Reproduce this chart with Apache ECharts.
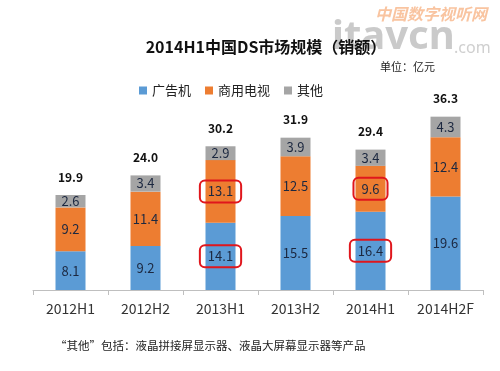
<!DOCTYPE html>
<html><head><meta charset="utf-8">
<script src="https://cdn.jsdelivr.net/npm/echarts@6/dist/echarts.min.js"></script>
<style>html,body{margin:0;padding:0;background:#fff}#c{width:500px;height:371px}</style>
</head><body><div id="c"></div>
<script>
const categories = ['2012H1','2012H2','2013H1','2013H2','2014H1','2014H2F'];
const adMachine = [8.1, 9.2, 14.1, 15.5, 16.4, 19.6];
const commercialTV = [9.2, 11.4, 13.1, 12.5, 9.6, 12.4];
const others = [2.6, 3.4, 2.9, 3.9, 3.4, 4.3];
const totals = [19.9, 24.0, 30.2, 31.9, 29.4, 36.3];
const highlighted = ['2013H1', '2014H1'];
const highlightSeries = ['广告机', '商用电视'];

const fontFam = '"Noto Sans CJK SC","Noto Sans",sans-serif';
const chart = echarts.init(document.getElementById('c'), null, {renderer: 'canvas'});

function segData(name, vals) {
  return vals.map((v, i) => {
    const item = {value: v};
    if (highlightSeries.includes(name) && highlighted.includes(categories[i])) {
      item.label = {borderColor: '#e0161c', borderWidth: 2, borderRadius: 5, padding: [5, 8, 4, 8]};
    }
    return item;
  });
}

const labelStyle = {show: true, position: 'inside', color: '#1c2840', fontSize: 13, fontFamily: fontFam,
  formatter: p => p.value.toFixed(1)};

chart.setOption({
  animation: false,
  title: {text: '2014H1中国DS市场规模（销额）', left: 261, top: 34, textAlign: 'center',
    textStyle: {fontSize: 16, fontWeight: 'bold', color: '#111', fontFamily: fontFam}},
  graphic: [
    {type: 'text', left: 375, top: 6, style: {text: '中国数字视听网', fill: '#f9c4a0', font: 'italic bold 16px "Noto Sans CJK SC"'}},
    {type: 'text', left: 332, top: 18, style: {text: 'itavcn', fill: 'rgba(150,150,150,0.5)', font: 'bold 40px "Noto Sans"'}},
    {type: 'text', left: 454, top: 40, style: {text: '.com', fill: 'rgba(160,160,160,0.5)', font: '16px "Noto Sans"'}},
    {type: 'text', left: 380, top: 61, style: {text: '单位：亿元', fill: '#222', font: '11px "Noto Sans CJK SC"'}},
    {type: 'text', left: 55, top: 340, style: {text: '“其他”包括：液晶拼接屏显示器、液晶大屏幕显示器等产品', fill: '#222', font: '11.5px "Noto Sans CJK SC"'}}
  ],
  legend: {top: 79, left: 134, itemWidth: 8, itemHeight: 8, itemGap: 14, icon: 'rect',
    textStyle: {fontSize: 13, color: '#222', fontFamily: fontFam},
    data: ['广告机', '商用电视', '其他']},
  grid: {left: 33, right: 17, top: 99, bottom: 81},
  xAxis: {type: 'category', data: categories,
    axisLine: {lineStyle: {color: '#bfbfbf'}},
    axisTick: {show: true, length: 5, lineStyle: {color: '#bfbfbf'}},
    axisLabel: {fontSize: 14, color: '#333', margin: 12, fontFamily: fontFam}},
  yAxis: {type: 'value', min: 0, max: 40, show: false, splitLine: {show: false}},
  series: [
    {name: '广告机', type: 'bar', stack: 's', barWidth: 30, data: segData('广告机', adMachine),
      itemStyle: {color: '#5b9bd5'}, label: labelStyle},
    {name: '商用电视', type: 'bar', stack: 's', data: segData('商用电视', commercialTV),
      itemStyle: {color: '#ed7d31'}, label: labelStyle},
    {name: '其他', type: 'bar', stack: 's', data: segData('其他', others),
      itemStyle: {color: '#a5a5a5'}, label: labelStyle},
    {name: '合计', type: 'bar', stack: 's', data: totals.map(() => 0),
      itemStyle: {color: 'transparent'},
      label: {show: true, position: 'top', distance: 12, color: '#111', fontSize: 12, fontWeight: 'bold',
        fontFamily: fontFam, formatter: p => totals[p.dataIndex].toFixed(1)}}
  ]
});
</script></body></html>
